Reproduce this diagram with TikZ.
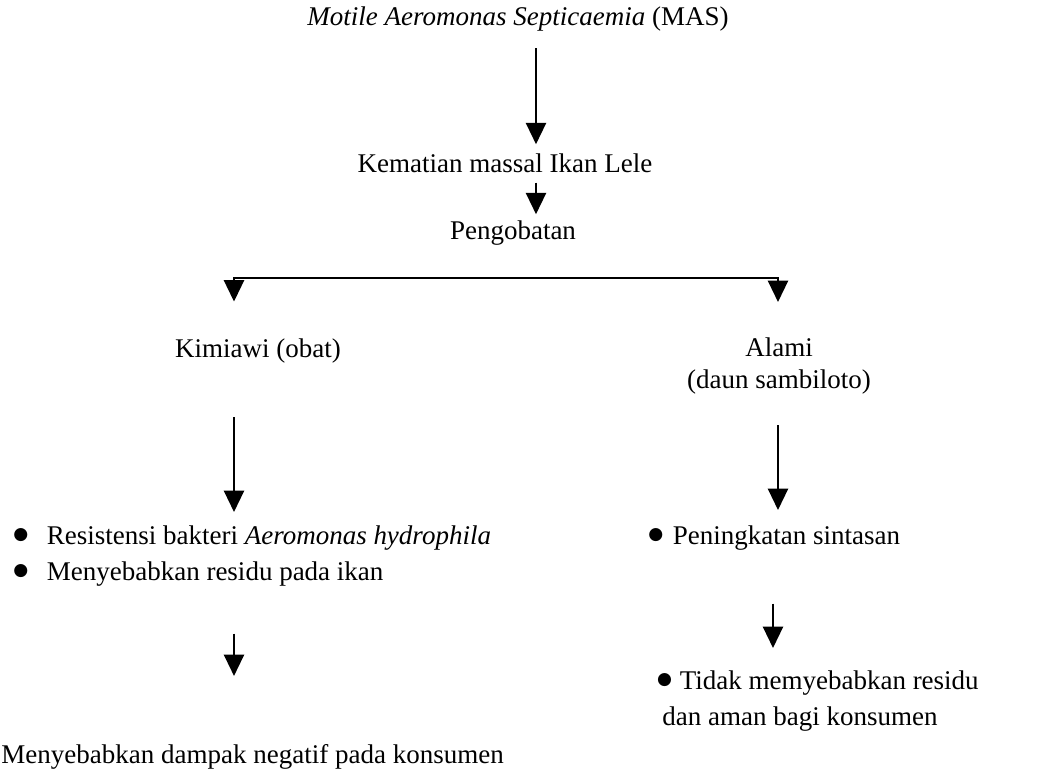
\documentclass[tikz,border=0pt]{standalone}
\usepackage{fontspec}
\setmainfont{Liberation Serif}
\newfontfamily\bltfont{DejaVu Sans}
\usetikzlibrary{arrows.meta, positioning, calc}

\tikzset{
    txt/.style={inner sep=0pt, font=\fontsize{12.6pt}{14pt}\selectfont},
    flow/.style={line width=1pt, -{Triangle[width=9.4pt, length=10pt]}},
    flowboth/.style={line width=1pt, {Triangle[width=9.4pt, length=10pt]}-{Triangle[width=9.4pt, length=10pt]}}
}
\newcommand{\blt}[1]{\makebox[#1][l]{\raisebox{2.4pt}{\bltfont\fontsize{8pt}{8pt}\selectfont ●}}\vphantom{(}}

\begin{document}
\begin{tikzpicture}[x=0.0164cm, y=-0.0164cm]
    \useasboundingbox (0,0) rectangle (1046,772);

    % Columns for the arrows
    \coordinate (colM) at (536,0);
    \coordinate (colL) at (234,0);
    \coordinate (colR) at (778,0);
    \coordinate (colRR) at (773,0);
    \coordinate (barmid) at (505,278);

    % Top chain
    \node[txt, anchor=base] (mas) at (518,26) {\textit{Motile Aeromonas Septicaemia} (MAS)};
    \node[txt, anchor=base] (kematian) at (505,172) {Kematian massal Ikan Lele};
    \node[txt, anchor=base] (pengobatan) at (513,239) {Pengobatan};

    % Two kinds of treatment
    \node[txt, anchor=base] (kimia) at (258,357) {Kimiawi (obat)};
    \node[txt, anchor=north, align=center, font=\fontsize{12.6pt}{15pt}\selectfont]
        (alami) at (779,337) {Alami\\(daun sambiloto)};

    % Effects
    \node[txt, anchor=north west, align=left, font=\fontsize{12.6pt}{16.8pt}\selectfont]
        (kimiaeff) at (13,525.3) {\blt{15.6pt}Resistensi bakteri \textit{Aeromonas hydrophila}\\
        \blt{15.6pt}Menyebabkan residu pada ikan};
    \node[txt, anchor=north west] (alamieff) at (648,525.3) {\blt{11.4pt}Peningkatan sintasan};
    \node[txt, anchor=north west, align=left, font=\fontsize{12.6pt}{16.8pt}\selectfont]
        (alamires) at (662,670.3) {\hspace*{-2.5pt}\blt{10.6pt}Tidak memyebabkan residu\\dan aman bagi konsumen};
    \node[txt, anchor=base west] (dampak) at (1,763) {Menyebabkan dampak negatif pada konsumen};

    % Connectors
    \draw[flow] ($(mas.south -| colM)+(0,16)$) -- ($(kematian.north -| colM)+(0,-8.6)$);
    \draw[flow] ($(kematian.south -| colM)+(0,10)$) -- ($(pengobatan.north -| colM)+(0,-5.6)$);
    \draw[flowboth] ($(kimia.north -| colL)+(0,-36.3)$) |- (barmid) -| ($(alami.north -| colR)+(0,-35)$);
    \draw[flow] ($(kimia.south -| colL)+(0,54)$) -- ($(kimiaeff.north -| colL)+(0,-13.3)$);
    \draw[flow] ($(alami.south -| colR)+(0,31)$) -- ($(alamieff.north -| colR)+(0,-15.3)$);
    \draw[flow] ($(kimiaeff.south -| colL)+(0,47)$) -- ($(dampak.north -| colL)+(0,-67.6)$);
    \draw[flow] ($(alamieff.south -| colRR)+(0,53)$) -- ($(alamires.north -| colRR)+(0,-22.3)$);
\end{tikzpicture}
\end{document}
